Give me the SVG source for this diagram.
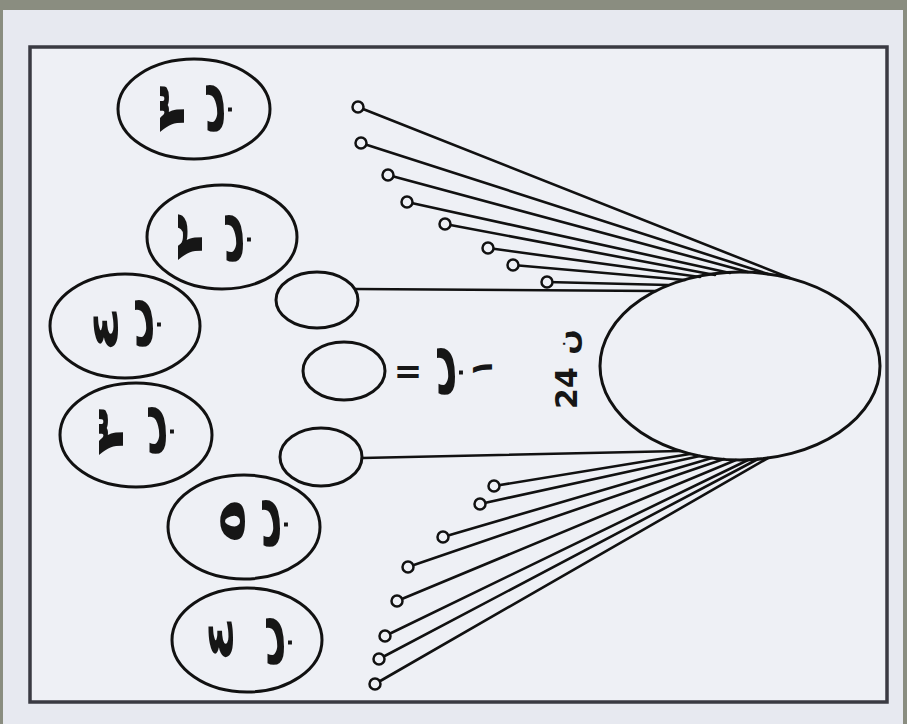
<svg xmlns="http://www.w3.org/2000/svg" width="907" height="724" viewBox="0 0 907 724">
<style>
.c{fill:none;stroke:#111;stroke-width:3}
.pin{fill:#eef0f5;stroke:#111;stroke-width:2.5}
.ln{stroke:#111;stroke-width:2.6;fill:none;stroke-linecap:round}
.g{font-family:"DejaVu Sans",sans-serif;font-weight:bold;fill:#161616;font-size:54px}
.s{font-family:"DejaVu Sans",sans-serif;font-weight:bold;fill:#161616;font-size:30px}
.eq{font-family:"DejaVu Sans",sans-serif;font-weight:bold;fill:#161616;font-size:34px}
</style>
<rect x="0" y="0" width="907" height="724" fill="#e7e9f0"/>
<rect x="0" y="0" width="907" height="10" fill="#8a8d80"/>
<rect x="0" y="0" width="3" height="724" fill="#8a8d80"/>
<rect x="903" y="0" width="4" height="724" fill="#8a8d80"/>
<rect x="30" y="47" width="857" height="655" fill="#eef0f5" stroke="#3a3a42" stroke-width="3.5"/>

<g id="connectors">
<line class="ln" x1="358" y1="107" x2="790" y2="278"/>
<line class="ln" x1="361" y1="143" x2="768" y2="274"/>
<line class="ln" x1="388" y1="175" x2="748" y2="272"/>
<line class="ln" x1="407" y1="202" x2="730" y2="273"/>
<line class="ln" x1="445" y1="224" x2="715" y2="275"/>
<line class="ln" x1="488" y1="248" x2="700" y2="277"/>
<line class="ln" x1="513" y1="265" x2="685" y2="280"/>
<line class="ln" x1="547" y1="282" x2="668" y2="285"/>
<line class="ln" x1="355" y1="289" x2="656" y2="291"/>
<line class="ln" x1="362" y1="458" x2="680" y2="451"/>
<line class="ln" x1="494" y1="486" x2="690" y2="454"/>
<line class="ln" x1="480" y1="504" x2="700" y2="456"/>
<line class="ln" x1="443" y1="537" x2="712" y2="458"/>
<line class="ln" x1="408" y1="567" x2="724" y2="459"/>
<line class="ln" x1="397" y1="601" x2="736" y2="460"/>
<line class="ln" x1="385" y1="636" x2="748" y2="460"/>
<line class="ln" x1="379" y1="659" x2="758" y2="459"/>
<line class="ln" x1="375" y1="684" x2="768" y2="458"/>
</g>

<g id="whole">
<ellipse class="c" cx="740" cy="366" rx="140" ry="94" fill="#eef0f5"/>
<text class="s" transform="translate(566,342) rotate(-90)" text-anchor="middle" dominant-baseline="central">ن</text>
<text class="s" transform="translate(566,388) rotate(-90)" text-anchor="middle" dominant-baseline="central">24</text>
</g>

<g id="pins-upper">
<circle class="pin" cx="358" cy="107" r="5.5"/>
<circle class="pin" cx="361" cy="143" r="5.5"/>
<circle class="pin" cx="388" cy="175" r="5.5"/>
<circle class="pin" cx="407" cy="202" r="5.5"/>
<circle class="pin" cx="445" cy="224" r="5.5"/>
<circle class="pin" cx="488" cy="248" r="5.5"/>
<circle class="pin" cx="513" cy="265" r="5.5"/>
<circle class="pin" cx="547" cy="282" r="5.5"/>
</g>
<g id="pins-lower">
<circle class="pin" cx="494" cy="486" r="5.5"/>
<circle class="pin" cx="480" cy="504" r="5.5"/>
<circle class="pin" cx="443" cy="537" r="5.5"/>
<circle class="pin" cx="408" cy="567" r="5.5"/>
<circle class="pin" cx="397" cy="601" r="5.5"/>
<circle class="pin" cx="385" cy="636" r="5.5"/>
<circle class="pin" cx="379" cy="659" r="5.5"/>
<circle class="pin" cx="375" cy="684" r="5.5"/>
</g>

<g id="isolate-upper"><ellipse class="c" cx="317" cy="300" rx="41" ry="28"/></g>
<g id="isolate-lower"><ellipse class="c" cx="321" cy="457" rx="41" ry="29"/></g>

<g id="legend">
<ellipse class="c" cx="344" cy="371" rx="41" ry="29"/>
<text class="eq" x="408" y="371" text-anchor="middle" dominant-baseline="central">=</text>
<text class="g" transform="translate(436,371) rotate(-90)" text-anchor="middle" dominant-baseline="central">ب</text>
<text class="s" transform="translate(481,368) rotate(-90)" text-anchor="middle" dominant-baseline="central">١</text>
</g>

<g id="group-1">
<ellipse class="c" cx="194" cy="109" rx="76" ry="50"/>
<text class="g" transform="translate(171,109) rotate(-90) scale(1.45,0.7)" text-anchor="middle" dominant-baseline="central">٣</text>
<text class="g" transform="translate(205,108) rotate(-90)" text-anchor="middle" dominant-baseline="central">ب</text>
</g>
<g id="group-2">
<ellipse class="c" cx="222" cy="237" rx="75" ry="52"/>
<text class="g" transform="translate(189,237) rotate(-90) scale(1.45,0.7)" text-anchor="middle" dominant-baseline="central">٢</text>
<text class="g" transform="translate(224,238) rotate(-90)" text-anchor="middle" dominant-baseline="central">ب</text>
</g>
<g id="group-3">
<ellipse class="c" cx="125" cy="326" rx="75" ry="52"/>
<text class="g" transform="translate(105,329) rotate(-90) scale(1.45,0.7)" text-anchor="middle" dominant-baseline="central">٤</text>
<text class="g" transform="translate(134,323) rotate(-90)" text-anchor="middle" dominant-baseline="central">ب</text>
</g>
<g id="group-4">
<ellipse class="c" cx="136" cy="435" rx="76" ry="52"/>
<text class="g" transform="translate(110,432) rotate(-90) scale(1.45,0.7)" text-anchor="middle" dominant-baseline="central">٣</text>
<text class="g" transform="translate(147,430) rotate(-90)" text-anchor="middle" dominant-baseline="central">ب</text>
</g>
<g id="group-5">
<ellipse class="c" cx="244" cy="527" rx="76" ry="52"/>
<text class="g" transform="translate(232,521) rotate(-90) scale(1.45,0.7)" text-anchor="middle" dominant-baseline="central">٥</text>
<text class="g" transform="translate(261,523) rotate(-90)" text-anchor="middle" dominant-baseline="central">ب</text>
</g>
<g id="group-6">
<ellipse class="c" cx="247" cy="640" rx="75" ry="52"/>
<text class="g" transform="translate(220,639) rotate(-90) scale(1.45,0.7)" text-anchor="middle" dominant-baseline="central">٤</text>
<text class="g" transform="translate(265,641) rotate(-90)" text-anchor="middle" dominant-baseline="central">ب</text>
</g>
</svg>
